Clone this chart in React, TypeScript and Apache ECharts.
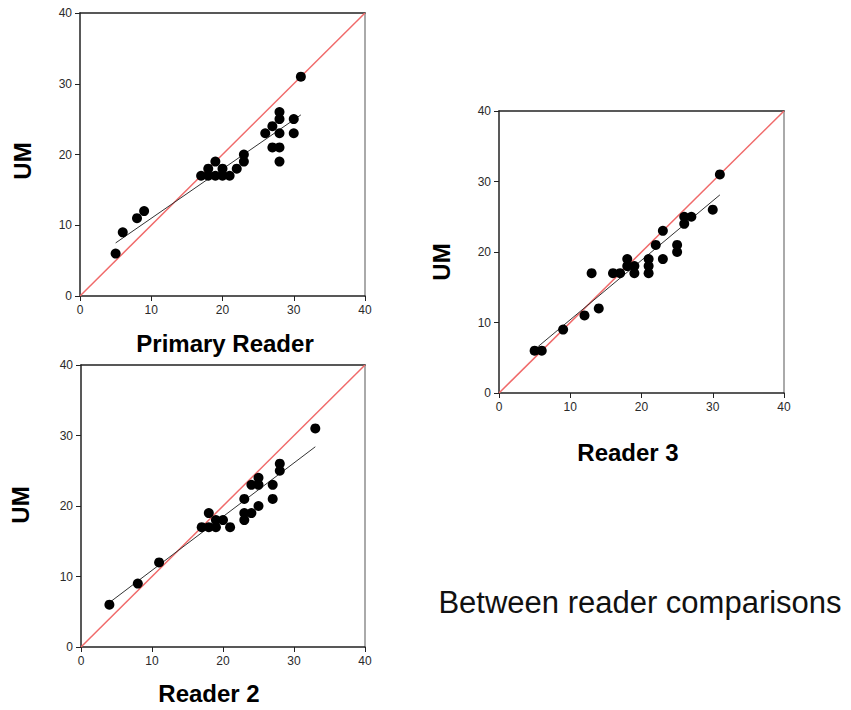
import React, { useEffect, useRef } from "react";
import * as echarts from "echarts";

// Primary Reader vs UM
const primaryPoints: [number, number][] = [
  [5, 6], [6, 9], [8, 11], [9, 12], [17, 17], [18, 17], [18, 18], [19, 17], [19, 19],
  [20, 17], [20, 18], [21, 17], [22, 18], [23, 19], [23, 20], [26, 23], [27, 24], [27, 21],
  [28, 26], [28, 25], [28, 23], [28, 21], [28, 19], [30, 25], [30, 23], [31, 31],
];
const primaryFit: [number, number][] = [[5, 7.5], [31, 25.6]];

// Reader 3 vs UM
const reader3Points: [number, number][] = [
  [5, 6], [6, 6], [9, 9], [12, 11], [13, 17], [14, 12], [16, 17], [17, 17], [18, 19],
  [18, 18], [19, 18], [19, 17], [21, 19], [21, 18], [21, 17], [22, 21], [23, 23], [23, 19],
  [25, 21], [25, 20], [26, 25], [26, 24], [27, 25], [30, 26], [31, 31],
];
const reader3Fit: [number, number][] = [[5.5, 6.6], [31, 28.1]];

// Reader 2 vs UM
const reader2Points: [number, number][] = [
  [4, 6], [8, 9], [11, 12], [17, 17], [18, 19], [18, 17], [19, 18], [19, 17], [20, 18],
  [21, 17], [23, 21], [23, 19], [23, 18], [24, 23], [24, 19], [25, 24], [25, 23], [25, 20],
  [27, 23], [27, 21], [28, 26], [28, 25], [33, 31],
];
const reader2Fit: [number, number][] = [[4, 6.3], [33, 28.4]];

const identityLine: [number, number][] = [[0, 0], [40, 40]];
const axisMin = 0;
const axisMax = 40;
const axisInterval = 10;

const FONT = "'Liberation Sans', Arial, sans-serif";

export default function App() {
  const ref = useRef<HTMLDivElement>(null);
  useEffect(() => {
    if (!ref.current) return;
    const chart = echarts.init(ref.current, undefined, { renderer: "svg" });
    const grids = [
      { left: 80, top: 13, width: 285, height: 283 },
      { left: 499, top: 111, width: 285, height: 282 },
      { left: 81, top: 365, width: 284, height: 282 },
    ];
    const datasets = [
      { pts: primaryPoints, fit: primaryFit },
      { pts: reader3Points, fit: reader3Fit },
      { pts: reader2Points, fit: reader2Fit },
    ];
    const xAxes: any[] = [];
    const yAxes: any[] = [];
    const series: any[] = [];
    grids.forEach((g, i) => {
      xAxes.push({
        type: "value", gridIndex: i, min: axisMin, max: axisMax, interval: axisInterval,
        position: "bottom",
        axisLine: { show: true, lineStyle: { color: "#222", width: 1.5 } },
        axisTick: { show: true, length: 5, lineStyle: { color: "#222" } },
        axisLabel: { color: "#2a2a2a", fontSize: 12, fontFamily: FONT, margin: 8 },
        splitLine: { show: false },
      });
      xAxes.push({
        type: "value", gridIndex: i, min: axisMin, max: axisMax, position: "top",
        axisLine: { show: true, onZero: false, lineStyle: { color: "#222", width: 1.5 } },
        axisTick: { show: false }, axisLabel: { show: false }, splitLine: { show: false },
      });
      yAxes.push({
        type: "value", gridIndex: i, min: axisMin, max: axisMax, interval: axisInterval,
        position: "left",
        axisLine: { show: true, lineStyle: { color: "#222", width: 1.5 } },
        axisTick: { show: true, length: 5, lineStyle: { color: "#222" } },
        axisLabel: { color: "#2a2a2a", fontSize: 12, fontFamily: FONT, margin: 8 },
        splitLine: { show: false },
      });
      yAxes.push({
        type: "value", gridIndex: i, min: axisMin, max: axisMax, position: "right",
        axisLine: { show: true, onZero: false, lineStyle: { color: "#aaa", width: 2 } },
        axisTick: { show: false }, axisLabel: { show: false }, splitLine: { show: false },
      });
      const xi = i * 2;
      const yi = i * 2;
      series.push({
        type: "line", xAxisIndex: xi, yAxisIndex: yi, data: identityLine,
        symbol: "none", lineStyle: { color: "#f06a6a", width: 1.5 }, z: 2, silent: true,
      });
      series.push({
        type: "line", xAxisIndex: xi, yAxisIndex: yi, data: datasets[i].fit,
        symbol: "none", lineStyle: { color: "#333", width: 1 }, z: 3, silent: true,
      });
      series.push({
        type: "scatter", xAxisIndex: xi, yAxisIndex: yi, data: datasets[i].pts,
        symbol: "circle", symbolSize: 10, itemStyle: { color: "#000", opacity: 1 }, z: 4,
      });
    });
    const boldTitle = (text: string, x: number, y: number, rotate = 0) => ({
      type: "text", x, y, rotation: rotate,
      style: {
        text, fontSize: 24, fontWeight: "bold", fontFamily: FONT, fill: "#000",
        align: "center", verticalAlign: "middle",
      },
    });
    chart.setOption({
      animation: false,
      grid: grids.map((g) => ({ ...g, containLabel: false })),
      xAxis: xAxes,
      yAxis: yAxes,
      series,
      graphic: [
        boldTitle("Primary Reader", 225, 343),
        boldTitle("UM", 22, 161, Math.PI / 2),
        boldTitle("Reader 3", 628, 452),
        boldTitle("UM", 441, 262, Math.PI / 2),
        boldTitle("Reader 2", 209, 693),
        boldTitle("UM", 20, 505, Math.PI / 2),
        {
          type: "text", x: 640, y: 602,
          style: {
            text: "Between reader comparisons", fontSize: 31, fontFamily: FONT, fill: "#111",
            align: "center", verticalAlign: "middle",
          },
        },
      ],
    });
    return () => chart.dispose();
  }, []);
  return (
    <div
      ref={ref}
      style={{ position: "fixed", left: 0, top: 0, width: 851, height: 710, background: "#fff" }}
    />
  );
}
